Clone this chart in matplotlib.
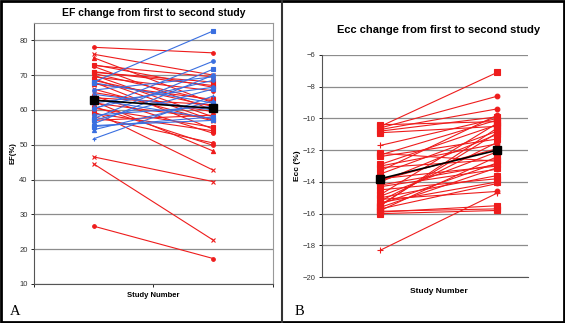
import numpy as np
import matplotlib.pyplot as plt
from matplotlib.lines import Line2D

plt.rcParams['font.family'] = ['Liberation Sans', 'DejaVu Sans']

# EF (%) first study -> second study
ef_red_first = [78.0, 76.0, 75.0, 73.0, 72.5, 71.0, 70.5, 70.0, 69.5, 69.0,
                68.5, 68.0, 67.5, 66.0, 65.0, 64.0, 63.5, 62.5, 62.0, 61.0,
                60.5, 59.5, 59.0, 58.0, 57.0, 46.5, 44.5, 26.6, 70.8, 72.8]
ef_red_second = [76.4, 70.0, 62.0, 66.5, 60.0, 67.0, 62.5, 58.0, 65.5, 57.0,
                 61.0, 54.5, 63.0, 56.8, 59.5, 53.3, 61.5, 48.2, 57.5, 49.8,
                 55.0, 42.7, 54.0, 50.5, 58.5, 39.4, 22.6, 17.3, 68.0, 69.5]
ef_blue_first = [68.0, 60.2, 57.5, 56.0, 65.7, 55.2, 54.3, 51.7, 57.0, 60.5,
                 63.0, 58.5, 55.5, 64.5, 62.0, 67.8]
ef_blue_second = [82.7, 74.0, 71.7, 70.0, 69.5, 58.0, 62.5, 64.0, 66.0, 68.5,
                  57.5, 61.0, 57.0, 60.0, 66.5, 62.0]
ef_mean = [62.8, 60.5]

# Ecc (%) first study -> second study
ecc_first = [-10.5, -10.6, -10.7, -10.8, -10.4, -10.9, -11.7, -12.3, -12.4, -12.9,
             -13.0, -13.1, -13.3, -13.5, -13.8, -14.0, -14.2, -14.3, -14.8, -14.9,
             -15.0, -15.2, -15.3, -15.4, -15.5, -15.6, -15.7, -15.8, -15.9, -16.0,
             -15.1, -14.5, -12.2, -15.85, -18.3, -13.9, -15.45]
ecc_second = [-7.1, -8.6, -9.4, -9.9, -10.2, -10.5, -10.0, -10.1, -11.3, -10.4,
              -11.6, -12.6, -9.8, -10.8, -13.0, -11.0, -12.9, -13.2, -10.3, -12.1,
              -13.6, -11.5, -14.0, -12.8, -10.6, -13.1, -14.1, -12.4, -15.5, -15.8,
              -14.6, -13.8, -12.7, -15.7, -14.7, -11.9, -10.9]
ecc_mean = [-13.8, -12.0]

study = [1, 2]
red_markers = ['o', 'x', '^', 's', 'o', 's', '^', 'x', 'o', 's',
               '^', 'o', 's', 'x', '^', 'o', 's', '^', 'o', 'o',
               's', 'x', 's', 'o', '^', 'x', 'x', 'o', 's', '^']
blue_markers = ['s', 'o', 's', 'o', 'o', 's', '^', '+', 's', 'o',
                '^', 'o', 's', 'x', 'o', 's']
ecc_markers = ['s', 'o', 'o', 's', 's', 's', '+', 's', 's', 's',
               'o', 's', 'o', 's', 'o', 's', 's', 'o', 's', 'o',
               's', 'o', 's', 'o', 's', 's', 'o', 's', 's', 's',
               'o', 's', 's', 's', '+', 'o', 's']
msizes = {'o': 2.6, 's': 3.2, '^': 3.0, 'x': 3.0, '*': 3.5, '+': 3.5}
red = '#ee1c1c'
blue = '#3a6fe0'
gridc = '#8c8c8c'

fig = plt.figure(figsize=(5.65, 3.23), dpi=100)
fig.patch.set_facecolor('white')

# ---- panel A ----
ax1 = fig.add_axes([0.060, 0.121, 0.423, 0.808])
for a, b, m in zip(ef_red_first, ef_red_second, red_markers):
    ax1.plot(study, [a, b], color=red, lw=0.8, marker=m, ms=msizes[m],
             mew=0.8, mfc=red, mec=red)
for a, b, m in zip(ef_blue_first, ef_blue_second, blue_markers):
    ax1.plot(study, [a, b], color=blue, lw=0.8, marker=m, ms=msizes[m],
             mew=0.8, mfc=blue, mec=blue)
ax1.plot(study, ef_mean, color='black', lw=1.2, marker='s', ms=6, zorder=5)

ax1.set_xlim(0.5, 2.5)
ax1.set_ylim(10, 85)
ax1.set_yticks(np.arange(10, 81, 10))
ax1.set_xticks([0.5, 1.5, 2.5])
ax1.set_xticklabels([])
ax1.yaxis.grid(True, color=gridc, lw=0.9)
ax1.set_axisbelow(True)
ax1.tick_params(axis='y', labelsize=5.5, length=2.5, width=0.6, pad=2,
                labelcolor='#333333')
ax1.tick_params(axis='x', length=2.5, width=0.6)
for s in ['top', 'right']:
    ax1.spines[s].set_color('#999999')
    ax1.spines[s].set_linewidth(0.8)
for s in ['left', 'bottom']:
    ax1.spines[s].set_color('#555555')
    ax1.spines[s].set_linewidth(0.8)
ax1.set_title('EF change from first to second study', fontsize=7.5,
              fontweight='bold', pad=5)
ax1.set_xlabel('Study Number', fontsize=5.5, fontweight='bold', labelpad=0)
ax1.set_ylabel('EF(%)', fontsize=5.5, fontweight='bold', labelpad=2)

# ---- panel B ----
ax2 = fig.add_axes([0.570, 0.142, 0.364, 0.688])
for a, b, m in zip(ecc_first, ecc_second, ecc_markers):
    ax2.plot(study, [a, b], color=red, lw=0.8, marker=m, ms=msizes[m] * 1.3,
             mew=0.8, mfc=red, mec=red)
ax2.plot(study, ecc_mean, color='black', lw=1.2, marker='s', ms=6, zorder=5)

ax2.set_xlim(0.5, 2.26)
ax2.set_ylim(-20, -6)
ax2.set_yticks(np.arange(-20, -5, 2))
ax2.set_xticks([])
ax2.yaxis.grid(True, color=gridc, lw=0.9)
ax2.set_axisbelow(True)
ax2.tick_params(axis='y', labelsize=5.5, length=2.5, width=0.6, pad=2,
                labelcolor='#333333')
for s in ['top', 'right']:
    ax2.spines[s].set_visible(False)
for s in ['left', 'bottom']:
    ax2.spines[s].set_color('#555555')
    ax2.spines[s].set_linewidth(0.8)
ax2.text(1.5, -4.4, 'Ecc change from first to second study', fontsize=8,
         fontweight='bold', ha='center', va='center')
ax2.text(1.5, -20.9, 'Study Number', fontsize=6, fontweight='bold',
         ha='center', va='center')
ax2.set_ylabel('Ecc (%)', fontsize=6, fontweight='bold', labelpad=1)

# panel letters, divider and outer frame
fig.text(0.017, 0.025, 'A', fontsize=10.5, family='Liberation Serif')
fig.text(0.522, 0.025, 'B', fontsize=10.5, family='Liberation Serif')
fig.add_artist(Line2D([282 / 565, 282 / 565], [0, 1], color='#333333',
                      lw=1.5, transform=fig.transFigure))
fig.add_artist(plt.Rectangle((0.002, 0.003), 0.996, 0.994, fill=False,
                             ec='black', lw=2.0, transform=fig.transFigure))

fig.savefig('out.png', dpi=100)
